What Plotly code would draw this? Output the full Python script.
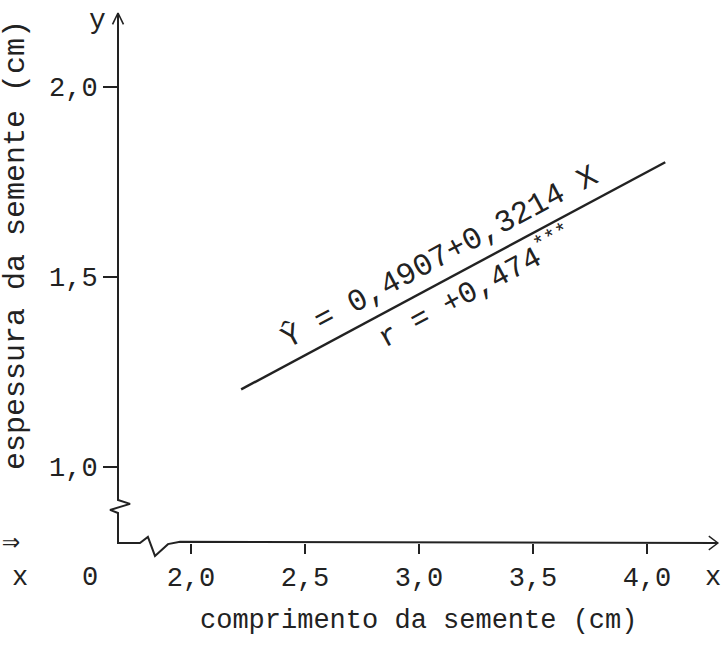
import plotly.graph_objects as go

# Linear regression of seed thickness (y) on seed length (x)
INTERCEPT = 0.4907
SLOPE = 0.3214
R_TEXT = "+0,474"
LINE_X = [2.22, 4.08]          # extent of the fitted line along x (cm)

X_TICKS = [2.0, 2.5, 3.0, 3.5, 4.0]
X_TICK_TEXT = ["2,0", "2,5", "3,0", "3,5", "4,0"]
Y_TICKS = [1.0, 1.5, 2.0]
Y_TICK_TEXT = ["1,0", "1,5", "2,0"]

X_TITLE = "comprimento da semente (cm)"
Y_TITLE = "espessura da semente (cm)"
EQ_TEXT = "Ŷ = 0,4907+0,3214 X"

line_y = [INTERCEPT + SLOPE * x for x in LINE_X]

# ---- page geometry -------------------------------------------------------
W, H = 728, 650
M = dict(l=100, r=4, t=8, b=77)
X_RANGE = [1.60088, 4.33772]
Y_RANGE = [0.72105, 2.20789]
AXIS_X = 1.67982   # x value where the vertical axis stands
AXIS_Y = 0.80      # y value where the horizontal axis stands
Y_TOP = 2.1947     # tip of the vertical axis arrow
X_END = 4.311      # tip of the horizontal axis arrow

FONT = "Liberation Mono, Courier New, monospace"
INK = "#222222"


def paper_x(px):
    return (px - M["l"]) / (W - M["l"] - M["r"])


def paper_y(py):
    return (H - M["b"] - py) / (H - M["t"] - M["b"])


fig = go.Figure()

# axis lines with the broken-scale zigzags near the origin
axis_x = [AXIS_X, AXIS_X, AXIS_X + 0.053, AXIS_X - 0.035, AXIS_X, AXIS_X,
          1.776, 1.811, 1.842, 1.899, 1.952, X_END]
axis_y = [Y_TOP, 0.913, 0.903, 0.887, 0.879, AXIS_Y,
          AXIS_Y, 0.816, 0.766, 0.797, 0.803, AXIS_Y]
fig.add_trace(go.Scatter(x=axis_x, y=axis_y, mode="lines",
                         line=dict(color=INK, width=2), hoverinfo="skip",
                         showlegend=False))

# arrow heads
fig.add_trace(go.Scatter(x=[AXIS_X - 0.024, AXIS_X, AXIS_X + 0.024],
                         y=[Y_TOP - 0.03, Y_TOP, Y_TOP - 0.03], mode="lines",
                         line=dict(color=INK, width=1.6), hoverinfo="skip",
                         showlegend=False))
fig.add_trace(go.Scatter(x=[X_END - 0.04, X_END, X_END - 0.04],
                         y=[AXIS_Y + 0.018, AXIS_Y, AXIS_Y - 0.018], mode="lines",
                         line=dict(color=INK, width=1.4), hoverinfo="skip",
                         showlegend=False))

# fitted regression line
fig.add_trace(go.Scatter(x=LINE_X, y=line_y, mode="lines",
                         line=dict(color=INK, width=2.4), hoverinfo="skip",
                         showlegend=False))


def label(txt, x, y, size, ref="paper", angle=0):
    return dict(x=x, y=y, xref=ref, yref=ref, text=txt, textangle=angle,
                showarrow=False, xanchor="center", yanchor="middle",
                font=dict(family=FONT, size=size, color=INK))


ann = []
# equation above the line, correlation below it, both parallel to it
eq_x, r_x = 3.09, 3.25
ann.append(label(EQ_TEXT, eq_x, INTERCEPT + SLOPE * eq_x + 0.068, 31,
                 ref="data", angle=-28.2))
ann.append(label("r = " + R_TEXT + "<sup>***</sup>", r_x,
                 INTERCEPT + SLOPE * r_x - 0.063, 30, ref="data", angle=-28.2))
for a in ann:
    a["xref"], a["yref"] = "x", "y"

# axis titles and letters
ann.append(label(X_TITLE, paper_x(418), paper_y(621), 27))
ann.append(label(Y_TITLE, paper_x(16), paper_y(245), 30, angle=-90))
for txt, px, py, sz in [("y", 97, 20, 28), ("x", 20, 578, 27),
                        ("0", 90, 578, 27), ("x", 713, 578, 27),
                        ("⇒", 11, 543, 30)]:
    ann.append(label(txt, paper_x(px), paper_y(py), sz))

fig.update_layout(
    width=W, height=H, margin=M,
    paper_bgcolor="white", plot_bgcolor="white",
    annotations=ann,
    xaxis=dict(range=X_RANGE, anchor="free",
               position=(AXIS_Y - Y_RANGE[0]) / (Y_RANGE[1] - Y_RANGE[0]),
               tickvals=X_TICKS, ticktext=X_TICK_TEXT, ticks="outside",
               ticklen=10, tickwidth=1.5, tickcolor=INK, ticklabelstandoff=0,
               tickfont=dict(family=FONT, size=27, color=INK),
               showline=False, showgrid=False, zeroline=False, fixedrange=True),
    yaxis=dict(range=Y_RANGE, anchor="free",
               position=(AXIS_X - X_RANGE[0]) / (X_RANGE[1] - X_RANGE[0]),
               tickvals=Y_TICKS, ticktext=Y_TICK_TEXT, ticks="outside",
               ticklen=15, tickwidth=1.5, tickcolor=INK, ticklabelstandoff=0,
               tickfont=dict(family=FONT, size=27, color=INK),
               showline=False, showgrid=False, zeroline=False, fixedrange=True),
)

fig.write_html("out.html")
